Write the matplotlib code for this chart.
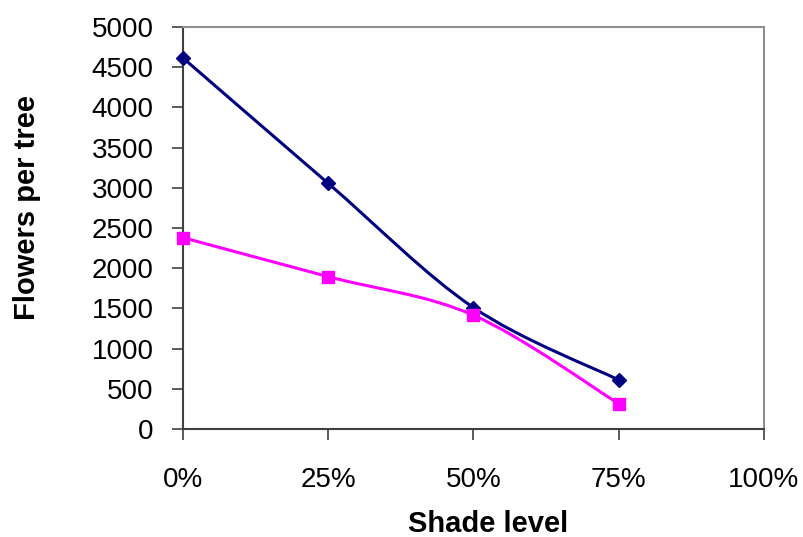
import matplotlib
matplotlib.use("Agg")
import matplotlib.pyplot as plt
from matplotlib.path import Path
from matplotlib.patches import PathPatch
from matplotlib.ticker import FuncFormatter
import numpy as np

# data
shade = [0.0, 0.25, 0.50, 0.75]
flowers_a = [4615, 3055, 1510, 610]   # navy diamonds
flowers_b = [2380, 1895, 1415, 315]   # magenta squares

x_ticks = [0.0, 0.25, 0.50, 0.75, 1.0]
y_ticks = list(range(0, 5001, 500))


def smooth_path(xs, ys):
    # Excel-like smoothed line: Catmull-Rom turned into cubic bezier segments
    pts = np.column_stack([xs, ys]).astype(float)
    ext = np.vstack([pts[0], pts, pts[-1]])
    verts = [tuple(pts[0])]
    codes = [Path.MOVETO]
    for i in range(1, len(ext) - 2):
        p0, p1, p2, p3 = ext[i - 1], ext[i], ext[i + 1], ext[i + 2]
        c1 = p1 + (p2 - p0) / 6.0
        c2 = p2 - (p3 - p1) / 6.0
        verts += [tuple(c1), tuple(c2), tuple(p2)]
        codes += [Path.CURVE4] * 3
    return Path(verts, codes)


plt.rcParams["font.family"] = ["Liberation Sans", "DejaVu Sans"]

fig = plt.figure(figsize=(8.04, 5.37), dpi=100)
ax = fig.add_axes([0.2276, 0.2011, 0.7226, 0.7486])

for xs, ys, col, mk, ms in [(shade, flowers_a, "#000080", "D", 7.5),
                            (shade, flowers_b, "#FF00FF", "s", 8.5)]:
    ax.add_patch(PathPatch(smooth_path(xs, ys), facecolor="none",
                           edgecolor=col, lw=2.2, zorder=2))
    ax.plot(xs, ys, linestyle="none", marker=mk, markersize=ms,
            color=col, zorder=3, clip_on=False)

ax.set_xlim(0, 1)
ax.set_ylim(0, 5000)
ax.set_xticks(x_ticks)
ax.set_yticks(y_ticks)
ax.xaxis.set_major_formatter(FuncFormatter(lambda v, p: f"{v * 100:.0f}%"))

for side in ["left", "bottom"]:
    ax.spines[side].set_color("#404040")
    ax.spines[side].set_linewidth(1.5)
for side in ["top", "right"]:
    ax.spines[side].set_color("#909090")
    ax.spines[side].set_linewidth(1.5)

ax.tick_params(axis="both", direction="out", length=8, width=1.2,
               color="#404040", labelsize=20)
ax.tick_params(axis="y", pad=13)
ax.tick_params(axis="x", pad=19)

# axis titles placed in figure pixels to match the reference
fig.text(488 / 804, 1 - 532 / 537, "Shade level", fontsize=21,
         fontweight="bold", ha="center", va="baseline")
fig.text(27 / 804, 1 - 208 / 537, "Flowers per tree", fontsize=21,
         fontweight="bold", ha="center", va="center", rotation=90)

fig.savefig("out.png", dpi=100)
